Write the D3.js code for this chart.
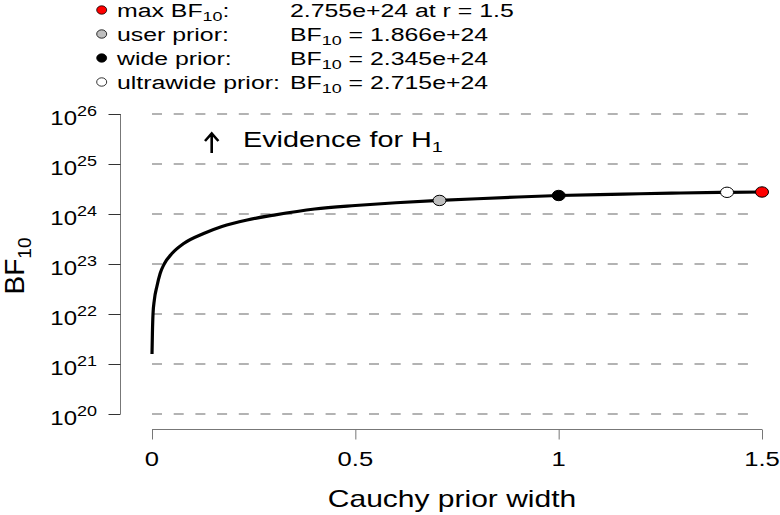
<!DOCTYPE html>
<html>
<head>
<meta charset="utf-8">
<script src="https://d3js.org/d3.v7.min.js"></script>
<style>
body { margin: 0; background: #fff; }
text { font-family: "Liberation Sans", Arial, sans-serif; fill: #000; }
</style>
</head>
<body>
<script>
// robustness curve (prior width r, BF10)
var rValues  = [0, 0.001, 0.0025, 0.0057, 0.012, 0.02, 0.03, 0.049, 0.078, 0.127, 0.172, 0.234, 0.3,
                0.4, 0.5, 0.6, 0.707, 0.8, 0.9, 1.0, 1.1, 1.2, 1.3, 1.414, 1.5];
var bfValues = [1.58e21, 4.07e21, 1.0e22, 1.9e22, 3.55e22, 6.46e22, 1.0e23, 1.62e23, 2.57e23, 4.07e23,
                5.62e23, 7.59e23, 9.5e23, 1.26e24, 1.48e24, 1.68e24, 1.866e24, 2.02e24, 2.19e24, 2.345e24,
                2.45e24, 2.54e24, 2.63e24, 2.715e24, 2.755e24];

var xTicks = [0, 0.5, 1, 1.5];
var yPowers = [20, 21, 22, 23, 24, 25, 26];

// highlighted priors
var pointLabels = ["max BF", "user prior:", "wide prior:", "ultrawide prior:"];
var pointR = [1.5, 0.707, 1, 1.414];
var pointBF = [2.755e24, 1.866e24, 2.345e24, 2.715e24];
var pointFill = ["#ff0000", "#bebebe", "#000000", "#ffffff"];
var drawOrder = [1, 2, 3, 0];

var W = 780, H = 515;
var svg = d3.select("body").append("svg").attr("width", W).attr("height", H);

var x = d3.scaleLinear().domain([0, 1.5]).range([152, 762]);
var y = d3.scaleLog().domain([1e20, 1e26]).range([414, 114]);

// text that is wider than it is tall, like the picture
function stext(parent, tx, ty, sx, size, anchor) {
    var g = parent.append("g").attr("transform", "translate(" + tx + "," + ty + ") scale(" + sx + ",1)");
    return g.append("text").attr("font-size", size).attr("text-anchor", anchor || "start");
}

// dashed grid
svg.selectAll(".grid").data(yPowers).enter()
    .append("line")
    .attr("x1", 152).attr("x2", 756)
    .attr("y1", d => y(Math.pow(10, d))).attr("y2", d => y(Math.pow(10, d)))
    .attr("stroke", "#b3b3b3").attr("stroke-width", 2)
    .attr("stroke-dasharray", "10,11.7");

// y axis
var yAxis = svg.append("g").attr("transform", "translate(120.5,0)")
    .call(d3.axisLeft(y).tickValues(yPowers.map(p => Math.pow(10, p))).tickSize(12).tickFormat(""));
yAxis.select(".domain").attr("stroke", "#777").attr("d", "M0," + y(1e20) + "V" + y(1e26));
yAxis.selectAll(".tick line").attr("stroke", "#333");

yPowers.forEach(function(p) {
    var t = stext(svg, 97, y(Math.pow(10, p)) + 11, 1.2, 20, "end");
    t.append("tspan").text("10");
    t.append("tspan").attr("font-size", 15).attr("dy", -9).text(p);
});

// x axis
var xAxis = svg.append("g").attr("transform", "translate(0,429.5)")
    .call(d3.axisBottom(x).tickValues(xTicks).tickSize(10).tickFormat(""));
xAxis.select(".domain").attr("stroke", "#777").attr("d", "M" + x(0) + ",0H" + x(1.5));
xAxis.selectAll(".tick line").attr("stroke", "#777");

xTicks.forEach(function(v) {
    stext(svg, x(v), 466, 1.22, 21, "middle").text(d3.format("")(v));
});

// axis titles
stext(svg, 452, 507, 1.25, 24, "middle").text("Cauchy prior width");

var yl = svg.append("text")
    .attr("transform", "translate(24,266) rotate(-90)")
    .attr("text-anchor", "middle").attr("font-size", 28);
yl.append("tspan").text("BF");
yl.append("tspan").attr("font-size", 19).attr("dy", 7).text("10");

// evidence arrow
svg.append("path")
    .attr("d", "M211.7,153V134M205,141L211.7,133.5L218.4,141")
    .attr("fill", "none").attr("stroke", "#000").attr("stroke-width", 2.6);
var ev = stext(svg, 243, 147, 1.28, 22.5, "start");
ev.append("tspan").text("Evidence for H");
ev.append("tspan").attr("font-size", 15.5).attr("dy", 5).text("1");

// curve
var line = d3.line()
    .x((d, i) => x(rValues[i]))
    .y(d => y(d))
    .curve(d3.curveMonotoneX);
svg.append("path").datum(bfValues)
    .attr("d", line)
    .attr("fill", "none").attr("stroke", "#000").attr("stroke-width", 3.2)
    .attr("stroke-linejoin", "round");

// points on the curve
svg.selectAll(".pt").data(drawOrder).enter()
    .append("ellipse")
    .attr("cx", i => x(pointR[i])).attr("cy", i => y(pointBF[i]))
    .attr("rx", 6.5).attr("ry", 5.2)
    .attr("fill", i => pointFill[i]).attr("stroke", "#000").attr("stroke-width", 1);

// legend
var rowY = [10, 34, 58, 82];
pointLabels.forEach(function(lab, i) {
    svg.append("ellipse")
        .attr("cx", 101.7).attr("cy", rowY[i]).attr("rx", 5).attr("ry", 4.2)
        .attr("fill", pointFill[i]).attr("stroke", "#000").attr("stroke-width", 0.8);
    var t = stext(svg, 117, rowY[i] + 6.5, 1.38, 18, "start");
    if (i === 0) {
        t.append("tspan").text(lab);
        t.append("tspan").attr("font-size", 13).attr("dy", 4).text("10");
        t.append("tspan").attr("dy", -4).text(":");
    } else {
        t.text(lab);
    }
    var v = stext(svg, 290, rowY[i] + 6.5, 1.38, 18, "start");
    var s = pointBF[i].toExponential(3);
    if (i === 0) {
        v.text(s + " at r = " + pointR[i]);
    } else {
        v.append("tspan").text("BF");
        v.append("tspan").attr("font-size", 13).attr("dy", 4).text("10");
        v.append("tspan").attr("dy", -4).text(" = " + s);
    }
});
</script>
</body>
</html>
